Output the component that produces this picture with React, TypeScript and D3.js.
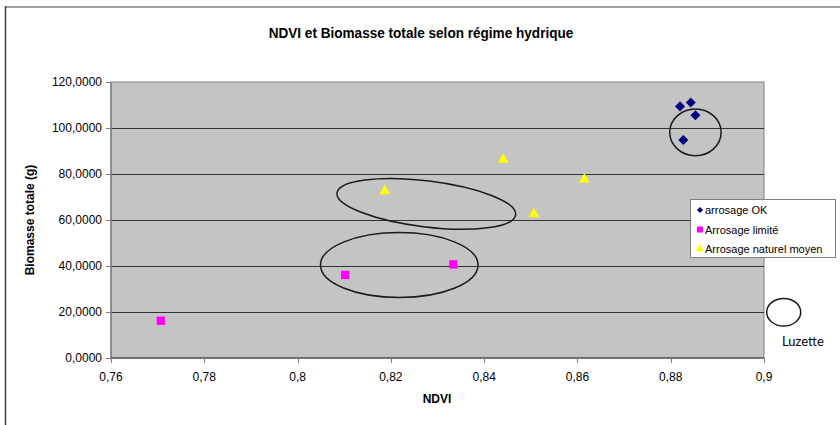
import React from "react";
import * as d3 from "d3";

const seriesNames = ["arrosage OK", "Arrosage limité", "Arrosage naturel moyen"];
const okNdvi = [0.882, 0.8843, 0.8853, 0.8827];
const okBiomasse = [109.4, 111.1, 105.5, 94.8];
const limNdvi = [0.7707, 0.8102, 0.8334];
const limBiomasse = [16.2, 36.1, 40.7];
const natNdvi = [0.8441, 0.8615, 0.8187, 0.8507];
const natBiomasse = [86.7, 78.1, 73.0, 63.0];
const xTicks = [0.76, 0.78, 0.8, 0.82, 0.84, 0.86, 0.88, 0.9];
const yTicks = [0, 20, 40, 60, 80, 100, 120];

// annotation ellipse centres in data coordinates
const annCx = [0.8853, 0.8276, 0.8218];
const annCy = [98.1, 67.0, 40.4];

const W = 840, H = 425;
const L = 111, R = 764, T = 82, B = 358;

export default function App() {
  const x = d3.scaleLinear().domain([0.76, 0.9]).range([L, R]);
  const y = d3.scaleLinear().domain([0, 120]).range([B, T]);
  const fmtY = (v: number) => v.toFixed(4).replace(".", ",");
  const fmtX = (v: number) => String(+v.toFixed(2)).replace(".", ",");
  const font = "'Liberation Sans', Arial, sans-serif";

  const diamond = d3.symbol().type(d3.symbolDiamond2).size(64)();
  const square = d3.symbol().type(d3.symbolSquare).size(70)();
  const tri = d3.symbol().type(d3.symbolTriangle).size(52)();

  const ok = okNdvi.map((v, i) => [x(v), y(okBiomasse[i])]);
  const lim = limNdvi.map((v, i) => [x(v), y(limBiomasse[i])]);
  const nat = natNdvi.map((v, i) => [x(v), y(natBiomasse[i])]);

  const annRx = [25.7, 90, 78.8];
  const annRy = [23.3, 23, 32.5];
  const annRot = [0, 7, 0];

  return (
    <svg width={W} height={H} style={{ position: "absolute", left: 0, top: 0, background: "#fff" }} fontFamily={font}>
      <line x1={5} x2={840} y1={7} y2={7} stroke="#a0a0a0" strokeWidth={2} />
      <line x1={5.5} x2={5.5} y1={6} y2={425} stroke="#404040" strokeWidth={1.5} />
      <text x={421} y={38} textAnchor="middle" fontSize={14} fontWeight="bold" transform="translate(421,0) scale(0.97,1) translate(-421,0)">NDVI et Biomasse totale selon régime hydrique</text>

      <rect x={L} y={T} width={R - L} height={B - T} fill="#c4c4c4" stroke="#808080" strokeWidth={1} />
      {yTicks.map((t) => (
        <g key={t}>
          {t > 0 && t < 120 && <line x1={L} x2={R} y1={Math.round(y(t)) + 0.5} y2={Math.round(y(t)) + 0.5} stroke="#333" strokeWidth={1} />}
          <line x1={L - 5} x2={L} y1={Math.round(y(t)) + 0.5} y2={Math.round(y(t)) + 0.5} stroke="#808080" />
          <text x={L - 9} y={y(t) + 4} textAnchor="end" fontSize={12}>{fmtY(t)}</text>
        </g>
      ))}
      <line x1={L} x2={L} y1={T} y2={B} stroke="#808080" strokeWidth={1.5} />
      <line x1={L} x2={R} y1={B} y2={B} stroke="#333" strokeWidth={1} />
      {xTicks.map((t) => (
        <g key={t}>
          <line x1={Math.round(x(t)) + 0.5} x2={Math.round(x(t)) + 0.5} y1={B} y2={B + 5} stroke="#808080" />
          <text x={x(t)} y={B + 23} textAnchor="middle" fontSize={12}>{fmtX(t)}</text>
        </g>
      ))}
      <text x={437} y={403} textAnchor="middle" fontSize={12} fontWeight="bold">NDVI</text>
      <text transform={`translate(34,${(T + B) / 2}) rotate(-90)`} textAnchor="middle" fontSize={12} fontWeight="bold">Biomasse totale (g)</text>

      {annCx.map((cx, i) => (
        <ellipse key={i} cx={0} cy={0} rx={annRx[i]} ry={annRy[i]} transform={`translate(${x(cx)},${y(annCy[i])}) rotate(${annRot[i]})`} fill="none" stroke="#1a1a1a" strokeWidth={1.5} />
      ))}

      {ok.map((p, i) => <path key={"o" + i} d={diamond!} transform={`translate(${p[0]},${p[1]})`} fill="#000080" />)}
      {lim.map((p, i) => <path key={"l" + i} d={square!} transform={`translate(${p[0]},${p[1]})`} fill="#ff00ff" />)}
      {nat.map((p, i) => <path key={"n" + i} d={tri!} transform={`translate(${p[0]},${p[1] + 1})`} fill="#ffff00" />)}

      <rect x={690.5} y={199.5} width={145} height={58} fill="#fff" stroke="#808080" />
      {seriesNames.map((s, i) => {
        const yy = 210 + i * 19.5;
        const d = i === 0 ? d3.symbol().type(d3.symbolDiamond2).size(24)() : i === 1 ? d3.symbol().type(d3.symbolSquare).size(36)() : d3.symbol().type(d3.symbolTriangle).size(28)();
        const c = i === 0 ? "#000080" : i === 1 ? "#ff00ff" : "#ffff00";
        return (
          <g key={s}>
            <path d={d!} transform={`translate(${700},${yy})`} fill={c} />
            <text x={705} y={yy + 4} fontSize={11}>{s}</text>
          </g>
        );
      })}

      <ellipse cx={783.7} cy={312.2} rx={17} ry={13.8} fill="none" stroke="#1a1a1a" strokeWidth={1.5} />
      <text x={782} y={346} fontSize={13} fontFamily="Lato, 'Open Sans', sans-serif">Luzette</text>
    </svg>
  );
}
